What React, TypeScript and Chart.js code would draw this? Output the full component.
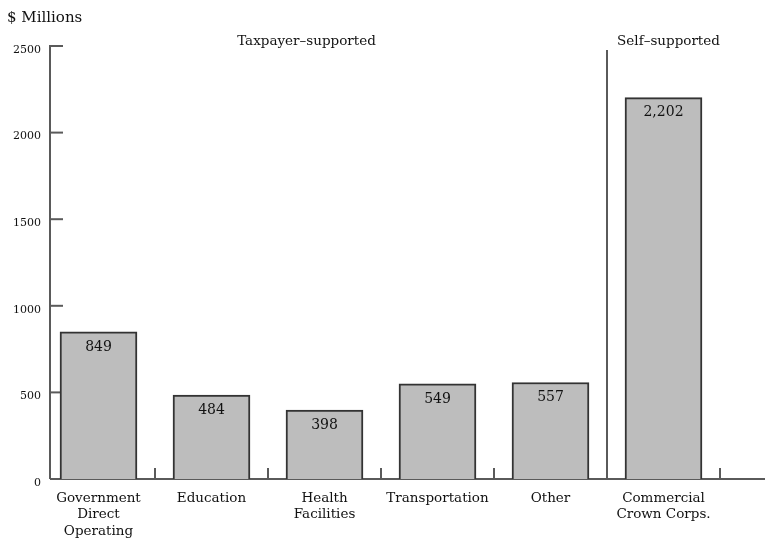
import { useEffect, useRef } from "react";
import { Chart, registerables } from "chart.js";

Chart.register(...registerables);

// Capital spending by sector ($ millions)
const categories: string[][] = [
  ["Government", "Direct", "Operating"],
  ["Education"],
  ["Health", "Facilities"],
  ["Transportation"],
  ["Other"],
  ["Commercial", "Crown Corps."],
];
const values = [849, 484, 398, 549, 557, 2202];
const valueLabels = ["849", "484", "398", "549", "557", "2,202"];
const yTickValues = [0, 500, 1000, 1500, 2000, 2500];
const yTickLabels = ["0", "500", "1000", "1500", "2000", "2500"];
const groupTitles = ["Taxpayer–supported", "Self–supported"];
const groupAnchors = [2, 5];
const separatorAfter = 4;
const unitLabel = "$ Millions";

const SERIF = '"DejaVu Serif", "Liberation Serif", serif';
const AXIS = "#5a5a5a";
const INK = "#111111";

const framePlugin = {
  id: "frame",
  beforeDatasetsDraw(chart: any) {
    const { ctx, chartArea, scales } = chart;
    const xs = scales.x;
    const ys = scales.y;
    const axisX = chartArea.left + 8;
    const base = ys.getPixelForValue(0);
    const top = ys.getPixelForValue(yTickValues[yTickValues.length - 1]);
    const half = (xs.getPixelForValue(1) - xs.getPixelForValue(0)) / 2;

    ctx.save();
    ctx.strokeStyle = AXIS;
    ctx.lineWidth = 2;
    ctx.lineCap = "butt";
    const seg = (x1: number, y1: number, x2: number, y2: number) => {
      ctx.beginPath();
      ctx.moveTo(x1, y1);
      ctx.lineTo(x2, y2);
      ctx.stroke();
    };

    // value axis with inward ticks
    seg(axisX, top - 1, axisX, base);
    yTickValues.forEach((v) => {
      if (v === 0) return;
      const py = ys.getPixelForValue(v);
      seg(axisX - 1, py, axisX + 13, py);
    });

    // baseline to the right edge
    seg(axisX, base, chart.width, base);

    // category boundary marks and the group separator
    categories.forEach((_, i) => {
      const bx = xs.getPixelForValue(i) + half;
      if (i === separatorAfter) {
        seg(bx, top + 4, bx, base);
      } else {
        seg(bx, base, bx, base - 11);
      }
    });

    // value axis labels
    ctx.fillStyle = INK;
    ctx.font = `11px ${SERIF}`;
    ctx.textAlign = "right";
    ctx.textBaseline = "middle";
    yTickValues.forEach((v, i) => {
      ctx.fillText(yTickLabels[i], axisX - 9, ys.getPixelForValue(v) + 4);
    });
    ctx.restore();
  },
  afterDatasetsDraw(chart: any) {
    const { ctx, scales } = chart;
    const xs = scales.x;
    const ys = scales.y;
    const base = ys.getPixelForValue(0);
    const meta = chart.getDatasetMeta(0);

    ctx.save();
    ctx.fillStyle = INK;
    ctx.textBaseline = "middle";
    ctx.textAlign = "center";

    // values inside the bars
    ctx.font = `14px ${SERIF}`;
    meta.data.forEach((bar: any, i: number) => {
      ctx.fillText(valueLabels[i], bar.x, bar.y + 15);
    });

    // category labels
    ctx.font = `13.5px ${SERIF}`;
    categories.forEach((lines, i) => {
      const cx = meta.data[i].x;
      lines.forEach((t, k) => {
        ctx.fillText(t, cx, base + 19 + k * 16.5);
      });
    });

    // group titles
    ctx.font = `13.5px ${SERIF}`;
    groupTitles.forEach((t, g) => {
      const shift = g === 0 ? -18 : 5;
      ctx.fillText(t, xs.getPixelForValue(groupAnchors[g]) + shift, 41);
    });

    // unit label
    ctx.textAlign = "left";
    ctx.font = `15px ${SERIF}`;
    ctx.fillText(unitLabel, 7, 18);
    ctx.restore();
  },
};

export default function App() {
  const canvasRef = useRef<HTMLCanvasElement | null>(null);

  useEffect(() => {
    const canvas = canvasRef.current;
    if (!canvas) return;
    const chart = new Chart(canvas, {
      type: "bar",
      data: {
        labels: categories.map((c) => c.join(" ")),
        datasets: [
          {
            data: values,
            backgroundColor: "#bdbdbd",
            borderColor: "#333333",
            borderWidth: 2,
            barThickness: 77,
          },
        ],
      },
      options: {
        animation: false,
        responsive: true,
        maintainAspectRatio: false,
        layout: { padding: { top: 46, bottom: 59, left: 42, right: 45 } },
        plugins: {
          legend: { display: false },
          tooltip: { enabled: false },
        },
        scales: {
          x: { display: false, offset: true },
          y: { display: false, min: 0, max: 2500 },
        },
      },
      plugins: [framePlugin],
    });
    return () => chart.destroy();
  }, []);

  return (
    <div
      style={{
        position: "fixed",
        left: 0,
        top: 0,
        width: 765,
        height: 538,
        background: "#ffffff",
      }}
    >
      <canvas ref={canvasRef} />
    </div>
  );
}
